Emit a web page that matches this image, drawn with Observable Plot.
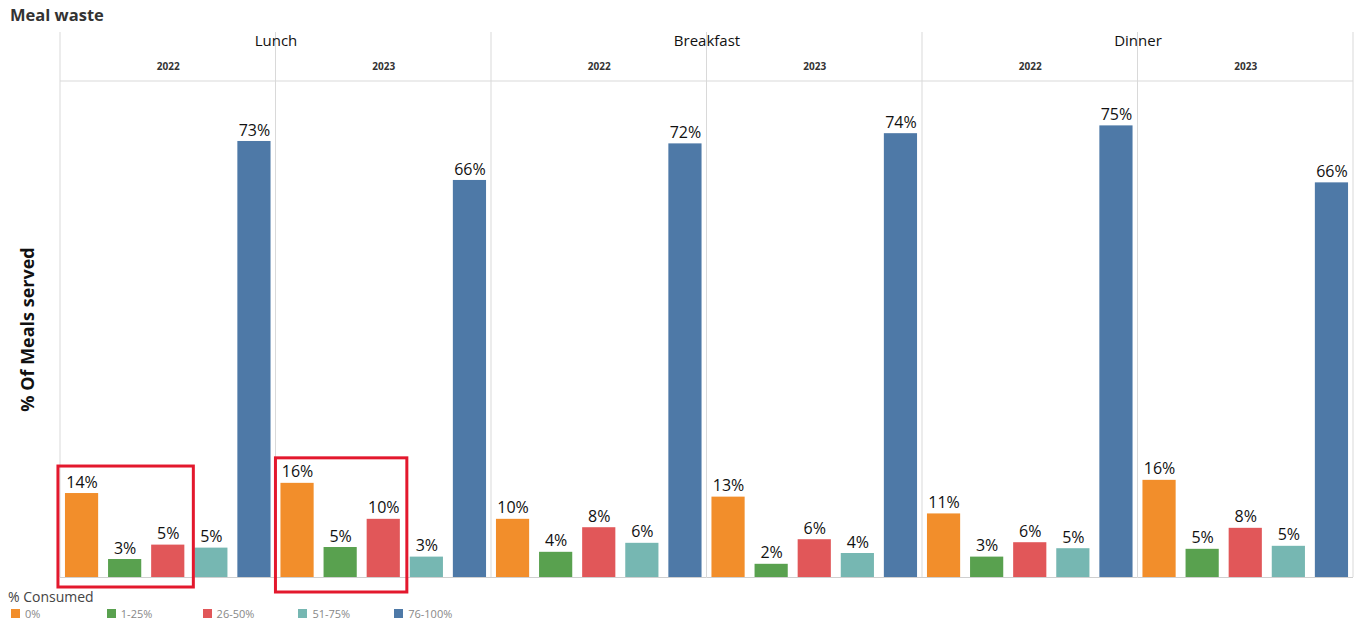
<!DOCTYPE html>
<html><head><meta charset="utf-8">
<script src="https://cdn.jsdelivr.net/npm/d3@7"></script>
<script src="https://cdn.jsdelivr.net/npm/@observablehq/plot@0.6"></script>
<style>
body{margin:0;background:#fff;width:1354px;height:624px;position:relative;overflow:hidden;font-family:"Open Sans",sans-serif}
#title{position:absolute;left:10px;top:3px;font:700 16.5px "Open Sans";color:#333}
#chart{position:absolute;left:0;top:32px}
#legend{position:absolute;left:0;top:587px;font-family:"Open Sans"}
</style></head><body>
<div id="title">Meal waste</div>
<div id="chart"></div>
<div id="legend"></div>
<script>
// ---- data (percent of meals served) ----
const meals = ["Lunch", "Breakfast", "Dinner"];
const years = ["2022", "2023"];
const categories = ["0%", "1-25%", "26-50%", "51-75%", "76-100%"];
const colors = ["#f28e2b", "#59a14f", "#e15759", "#76b7b2", "#4e79a7"];
const lunch2022 = [14.0, 3.0, 5.4, 4.9, 72.7];
const lunch2023 = [15.7, 5.0, 9.7, 3.4, 66.2];
const breakfast2022 = [9.7, 4.2, 8.3, 5.7, 72.3];
const breakfast2023 = [13.4, 2.2, 6.3, 4.0, 74.0];
const dinner2022 = [10.6, 3.4, 5.8, 4.8, 75.3];
const dinner2023 = [16.2, 4.7, 8.2, 5.2, 65.8];
const yLabelText = "% Of Meals served";
const legendTitle = "% Consumed";
// highlighted groups (red boxes): first three categories of Lunch 2022 / 2023
const highlights = [
  {meal: "Lunch", year: "2022", cats: ["0%", "1-25%", "26-50%"]},
  {meal: "Lunch", year: "2023", cats: ["0%", "1-25%", "26-50%"]}
];

const series = {
  Lunch: {"2022": lunch2022, "2023": lunch2023},
  Breakfast: {"2022": breakfast2022, "2023": breakfast2023},
  Dinner: {"2022": dinner2022, "2023": dinner2023}
};
const keyOf = (m, y) => m + "|" + y;
const keys = meals.flatMap(m => years.map(y => keyOf(m, y)));
const data = meals.flatMap(m => years.flatMap(y =>
  categories.map((c, i) => ({key: keyOf(m, y), meal: m, year: y, cat: c, value: series[m][y][i]}))));
const yearHeaders = keys.map(k => ({key: k, year: k.split("|")[1]}));
const mealHeaders = meals.map(m => ({key: keyOf(m, years[0]), meal: m}));
const yLabel = [{key: keys[0], label: yLabelText}];

// ---- layout / style ----
const W = 1354, H = 548;
const chart = Plot.plot({
  width: W, height: H,
  marginTop: 49, marginBottom: 3, marginLeft: 60, marginRight: 1,
  fx: {domain: keys, padding: 0, round: false, axis: null},
  x: {domain: categories, paddingInner: 0.23, paddingOuter: 0.115, round: false, axis: null},
  y: {domain: [0, 82.7], axis: null},
  color: {domain: categories, range: colors},
  style: {fontFamily: "'Open Sans', sans-serif", overflow: "visible", background: "white"},
  marks: [
    Plot.barY(data, {fx: "key", x: "cat", y: "value", fill: "cat"}),
    Plot.ruleY([0], {stroke: "#cfcfcf"}),
    Plot.text(data, {fx: "key", x: "cat", y: "value", text: d => Math.round(d.value) + "%",
      dy: -11, fontSize: 16, fill: "#111"}),
    Plot.text(yearHeaders, {fx: "key", text: "year", frameAnchor: "top", lineAnchor: "middle", dy: -15,
      fontWeight: "bold", fontSize: 10, fill: "#333"}),
    Plot.text(mealHeaders, {fx: "key", text: "meal", frameAnchor: "top-right", textAnchor: "middle",
      lineAnchor: "middle", dy: -40, fontSize: 15, fill: "#111"}),
    Plot.text(yLabel, {fx: "key", text: "label", frameAnchor: "left", textAnchor: "middle",
      lineAnchor: "middle", rotate: -90, dx: -32, fontWeight: "bold", fontSize: 18, fill: "#111"})
  ]
});
document.getElementById("chart").append(chart);

// ---- panel grid lines and highlight boxes, positioned through Plot's scales ----
const sFx = chart.scale("fx"), sX = chart.scale("x"), sY = chart.scale("y");
const fxA = sFx.apply || Plot.scale({fx: sFx}).apply;
const xA = sX.apply || Plot.scale({x: sX}).apply;
const yA = sY.apply || Plot.scale({y: sY}).apply;
const svg = d3.select(chart);
const g = svg.insert("g", ":first-child").attr("stroke", "#d9d9d9").attr("stroke-width", 1);
const bw = sFx.bandwidth;
const edges = keys.map(k => fxA(k)).concat([fxA(keys[keys.length - 1]) + bw]);
const yBase = yA(0), yTopFrame = Math.min(...sY.range);
edges.forEach(e => g.append("line").attr("x1", e).attr("x2", e).attr("y1", 0).attr("y2", yBase));
g.append("line").attr("x1", edges[0]).attr("x2", edges[edges.length - 1])
  .attr("y1", yTopFrame).attr("y2", yTopFrame);

const xOff = k => fxA(k) - Math.min(...sX.range);
const boxPad = [{l: 7, r: 9, t: 27, b: 10}, {l: 5, r: 7, t: 25, b: 15}];
highlights.forEach((h, i) => {
  const k = keyOf(h.meal, h.year);
  const vals = h.cats.map(c => series[h.meal][h.year][categories.indexOf(c)]);
  const x0 = xOff(k) + xA(h.cats[0]) - boxPad[i].l;
  const x1 = xOff(k) + xA(h.cats[h.cats.length - 1]) + sX.bandwidth + boxPad[i].r;
  const y0 = yA(Math.max(...vals)) - boxPad[i].t;
  const y1 = yBase + boxPad[i].b;
  svg.append("rect").attr("x", x0).attr("y", y0).attr("width", x1 - x0).attr("height", y1 - y0)
    .attr("fill", "none").attr("stroke", "#e3182d").attr("stroke-width", 3);
});

// ---- legend ----
const lg = d3.select("#legend");
lg.append("div").text(legendTitle)
  .style("position", "absolute").style("left", "8px").style("top", "0px")
  .style("font-size", "14px").style("color", "#444").style("white-space", "nowrap");
categories.forEach((c, i) => {
  const it = lg.append("div").style("position", "absolute")
    .style("left", (11 + i * 95.8) + "px").style("top", "19px")
    .style("display", "flex").style("align-items", "center").style("white-space", "nowrap");
  it.append("div").style("width", "9px").style("height", "9px").style("background", colors[i]);
  it.append("span").text(c).style("margin-left", "5px").style("font-size", "11px").style("color", "#888");
});
</script>
</body></html>
